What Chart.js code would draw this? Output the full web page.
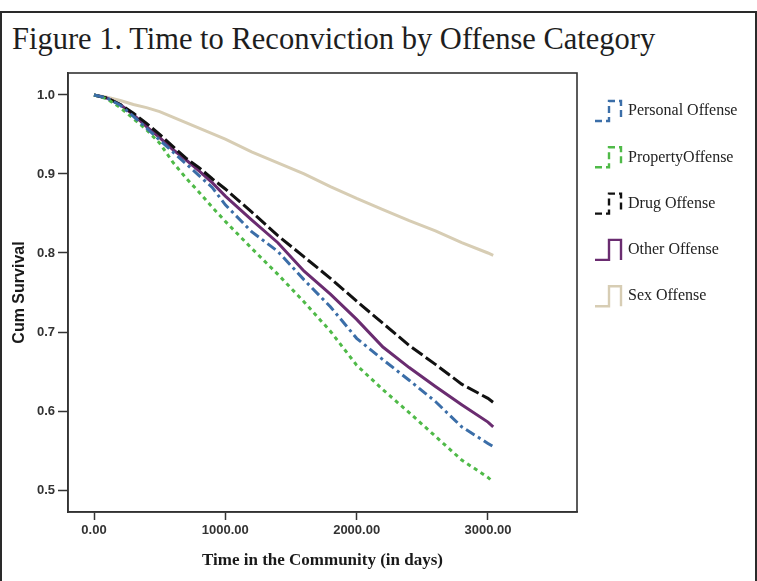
<!DOCTYPE html>
<html>
<head>
<meta charset="utf-8">
<title>Time to Reconviction by Offense Category</title>
<script src="https://cdn.jsdelivr.net/npm/chart.js@4.4.1/dist/chart.umd.min.js"></script>
<style>
  html, body { margin: 0; padding: 0; background: #fff; }
  body { width: 757px; height: 581px; position: relative; overflow: hidden; }
  .frame {
    position: absolute; left: 0; top: 11px; width: 753px; height: 620px;
    border: 2px solid #2a2a2a; border-bottom: none;
  }
  .title {
    position: absolute; left: 12px; top: 22px;
    font-family: "Liberation Serif", "Times New Roman", serif;
    font-size: 30.5px; color: #1e1e1e; white-space: nowrap;
  }
  #chart { position: absolute; left: 0; top: 0; }
</style>
</head>
<body>
<div class="frame"></div>
<div class="title">Figure 1. Time to Reconviction by Offense Category</div>
<canvas id="chart" width="757" height="581"></canvas>
<script>
/* global Chart */

// days since release (x) shared by every curve
const days = [0, 100, 200, 300, 400, 500, 600, 700, 800, 900, 1000,
  1200, 1400, 1600, 1800, 2000, 2200, 2400, 2600, 2800, 3000, 3040];

// cumulative survival
const personal = [1.0, 0.996, 0.987, 0.973, 0.958, 0.943, 0.928, 0.913, 0.898, 0.883, 0.861,
  0.827, 0.802, 0.766, 0.732, 0.692, 0.665, 0.639, 0.612, 0.580, 0.559, 0.555];
const property = [1.0, 0.995, 0.984, 0.970, 0.956, 0.939, 0.915, 0.895, 0.877, 0.858, 0.840,
  0.806, 0.773, 0.738, 0.701, 0.658, 0.627, 0.598, 0.568, 0.538, 0.516, 0.510];
const drug = [1.0, 0.996, 0.988, 0.977, 0.964, 0.950, 0.935, 0.920, 0.908, 0.894, 0.881,
  0.852, 0.822, 0.795, 0.768, 0.739, 0.711, 0.683, 0.659, 0.634, 0.616, 0.611];
const other = [1.0, 0.996, 0.988, 0.975, 0.960, 0.946, 0.931, 0.918, 0.904, 0.889, 0.872,
  0.842, 0.813, 0.777, 0.748, 0.716, 0.681, 0.655, 0.631, 0.608, 0.586, 0.580];
const sex = [1.0, 0.997, 0.993, 0.988, 0.984, 0.979, 0.972, 0.965, 0.958, 0.951, 0.944,
  0.928, 0.914, 0.900, 0.884, 0.869, 0.855, 0.841, 0.828, 0.813, 0.800, 0.797];

const seriesLabels = ["Personal Offense", "PropertyOffense", "Drug Offense", "Other Offense", "Sex Offense"];
const xTicks = [0, 1000, 2000, 3000];
const yTicks = [0.5, 0.6, 0.7, 0.8, 0.9, 1.0];

const styles = [
  { color: "#3b6ea8", dash: [10, 4, 3, 4] },
  { color: "#4fba48", dash: [4, 4] },
  { color: "#111111", dash: [13, 4] },
  { color: "#6a2c70", dash: [] },
  { color: "#d7cdb4", dash: [] }
];

function points(values) {
  return days.map((d, i) => ({ x: d, y: values[i] }));
}

const allSeries = [personal, property, drug, other, sex];

const datasets = allSeries.map((vals, i) => ({
  label: seriesLabels[i],
  data: points(vals),
  borderColor: styles[i].color,
  borderDash: styles[i].dash,
  borderWidth: 3,
  pointRadius: 0,
  tension: 0,
  fill: false
}));

// plot box around the chart area
const boxPlugin = {
  id: "box",
  beforeDatasetsDraw(chart) {
    const { ctx, chartArea: a } = chart;
    ctx.save();
    ctx.strokeStyle = "#333";
    ctx.lineWidth = 1.6;
    ctx.strokeRect(a.left, a.top, a.right - a.left, a.bottom - a.top);
    ctx.restore();
  }
};

// SPSS style legend with step icons, right of the plot
const stepLegend = {
  id: "stepLegend",
  afterDraw(chart) {
    const { ctx } = chart;
    const x0 = 595;
    const textX = 628;
    ctx.save();
    chart.data.datasets.forEach((ds, i) => {
      const cy = 111 + i * 46.3;
      const top = cy - 10;
      const bot = cy + 10;
      ctx.strokeStyle = ds.borderColor;
      ctx.lineWidth = 2.4;
      ctx.setLineDash(ds.borderDash.length ? [7, 4] : []);
      ctx.beginPath();
      ctx.moveTo(x0, bot);
      ctx.lineTo(x0 + 14, bot);
      ctx.lineTo(x0 + 14, top);
      ctx.lineTo(x0 + 26, top);
      ctx.lineTo(x0 + 26, bot);
      ctx.stroke();
      ctx.setLineDash([]);
      ctx.fillStyle = "#222";
      ctx.font = "16px 'Liberation Serif', serif";
      ctx.textBaseline = "middle";
      ctx.textAlign = "left";
      ctx.fillText(ds.label, textX, cy);
    });
    ctx.restore();
  }
};

const ctx = document.getElementById("chart").getContext("2d");
new Chart(ctx, {
  type: "line",
  data: { datasets },
  options: {
    responsive: false,
    animation: false,
    layout: { padding: { left: 0, top: 73, right: 180, bottom: 0 } },
    plugins: { legend: { display: false }, tooltip: { enabled: false } },
    scales: {
      x: {
        type: "linear",
        min: -198,
        max: 3678,
        afterBuildTicks: (s) => { s.ticks = xTicks.map((v) => ({ value: v })); },
        afterFit: (s) => { s.height = 69; },
        grid: { drawOnChartArea: false, drawTicks: true, tickLength: 8, tickColor: "#333", tickWidth: 1.5 },
        border: { color: "#333", width: 1.6 },
        ticks: {
          color: "#333",
          padding: 3,
          maxRotation: 0,
          font: { family: "'Liberation Sans', Arial, sans-serif", size: 13, weight: "bold" },
          callback: (v) => Number(v).toFixed(2)
        },
        title: {
          display: true,
          text: "Time in the Community (in days)",
          color: "#1a1a1a",
          padding: { top: 0, bottom: 10 },
          font: { family: "'Liberation Serif', 'Times New Roman', serif", size: 17, weight: "bold" }
        }
      },
      y: {
        type: "linear",
        min: 0.4722,
        max: 1.0278,
        afterBuildTicks: (s) => { s.ticks = yTicks.map((v) => ({ value: v })); },
        afterFit: (s) => { s.width = 68; },
        grid: { drawOnChartArea: false, drawTicks: true, tickLength: 10, tickColor: "#333", tickWidth: 1.5 },
        border: { color: "#333", width: 1.6 },
        ticks: {
          color: "#333",
          padding: 3,
          font: { family: "'Liberation Sans', Arial, sans-serif", size: 13, weight: "bold" },
          callback: (v) => Number(v).toFixed(1)
        },
        title: {
          display: true,
          text: "Cum Survival",
          color: "#1a1a1a",
          padding: { top: 10, bottom: 0 },
          font: { family: "'Liberation Sans', Arial, sans-serif", size: 16, weight: "bold" }
        }
      }
    }
  },
  plugins: [boxPlugin, stepLegend]
});
</script>
</body>
</html>
